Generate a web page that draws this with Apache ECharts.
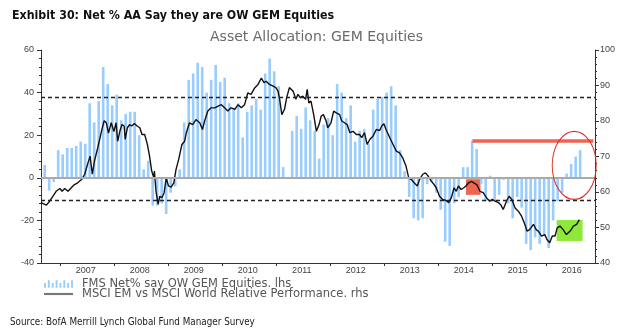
<!DOCTYPE html>
<html><head><meta charset="utf-8">
<script src="https://cdn.jsdelivr.net/npm/echarts@6/dist/echarts.min.js"></script>
<style>html,body{margin:0;padding:0;background:#fff}#c{width:633px;height:336px}</style>
</head><body><div id="c"></div>
<script>
// ---------- data ----------
const yearLabels = ['2007','2008','2009','2010','2011','2012','2013','2014','2015','2016'];

const barMonths = [
 '2006-09','2006-10','2006-11','2006-12',
 '2007-01','2007-02','2007-03','2007-04','2007-05','2007-06','2007-07','2007-08','2007-09','2007-10','2007-11','2007-12',
 '2008-01','2008-02','2008-03','2008-04','2008-05','2008-06','2008-07','2008-08','2008-09','2008-10','2008-11','2008-12',
 '2009-01','2009-02','2009-03','2009-04','2009-05','2009-06','2009-07','2009-08','2009-09','2009-10','2009-11','2009-12',
 '2010-01','2010-02','2010-03','2010-04','2010-05','2010-06','2010-07','2010-08','2010-09','2010-10','2010-11','2010-12',
 '2011-01','2011-02','2011-03','2011-04','2011-05','2011-06','2011-07','2011-08','2011-09','2011-10','2011-11','2011-12',
 '2012-01','2012-02','2012-03','2012-04','2012-05','2012-06','2012-07','2012-08','2012-09','2012-10','2012-11','2012-12',
 '2013-01','2013-02','2013-03','2013-04','2013-05','2013-06','2013-07','2013-08','2013-09','2013-10','2013-11','2013-12',
 '2014-01','2014-02','2014-03','2014-04','2014-05','2014-06','2014-07','2014-08','2014-09','2014-10','2014-11','2014-12',
 '2015-01','2015-02','2015-03','2015-04','2015-05','2015-06','2015-07','2015-08','2015-09','2015-10','2015-11','2015-12',
 '2016-01','2016-02','2016-03','2016-04','2016-05','2016-06','2016-07','2016-08'
];
const barValues = [
 6,-6,-2,13,
 11,14,14,15,17,16,35,26,36,52,44,34,
 39,27,30,31,31,20,4,8,-13,-13,-12,-17,
 -7,-4,4,26,46,49,54,52,40,46,53,45,
 47,35,33,35,19,31,34,37,32,49,56,50,
 43,5,0,22,29,23,33,27,22,9,25,28,
 20,44,40,28,34,17,22,23,16,32,37,38,
 40,43,34,13,3,-9,-19,-20,-19,-3,-2,-7,
 -15,-30,-32,-12,-9,5,5,17.5,13.5,-3,-11,1,
 -11,-8,-1,-12,-19,-9,-14,-31,-34,-28,-31,-27,
 -33,-20,-11,-7,2,6.5,10,13
];

const lineX = [
 2006.64,2006.68,2006.74,2006.80,2006.86,2006.92,2006.99,2007.03,2007.08,2007.14,
 2007.20,2007.26,2007.32,2007.39,2007.45,2007.51,2007.55,2007.59,2007.63,2007.69,
 2007.76,2007.81,2007.85,2007.89,2007.94,2007.99,2008.03,2008.06,2008.10,2008.14,
 2008.18,2008.20,2008.24,2008.28,2008.32,2008.37,2008.42,2008.47,2008.51,2008.56,
 2008.61,2008.65,2008.69,2008.73,2008.74,2008.77,2008.81,2008.84,2008.88,2008.92,
 2008.96,2009.00,2009.05,2009.10,2009.14,2009.19,2009.25,2009.30,2009.33,2009.39,
 2009.45,2009.51,2009.58,2009.63,2009.67,2009.73,2009.79,2009.86,2009.92,2009.98,
 2010.04,2010.10,2010.16,2010.23,2010.29,2010.35,2010.41,2010.47,2010.53,2010.60,
 2010.66,2010.72,2010.77,2010.81,2010.87,2010.94,2010.99,2011.03,2011.06,2011.10,
 2011.15,2011.19,2011.24,2011.31,2011.36,2011.40,2011.44,2011.49,2011.54,2011.57,
 2011.60,2011.64,2011.69,2011.74,2011.79,2011.83,2011.87,2011.92,2011.95,2012.01,
 2012.06,2012.11,2012.17,2012.21,2012.26,2012.31,2012.36,2012.42,2012.48,2012.54,
 2012.58,2012.63,2012.68,2012.73,2012.79,2012.85,2012.91,2012.95,2012.99,2013.03,
 2013.10,2013.16,2013.22,2013.28,2013.34,2013.40,2013.45,2013.50,2013.55,2013.61,
 2013.65,2013.71,2013.76,2013.81,2013.87,2013.92,2013.96,2014.02,2014.08,2014.14,
 2014.19,2014.24,2014.29,2014.33,2014.37,2014.42,2014.47,2014.51,2014.56,2014.61,
 2014.64,2014.71,2014.77,2014.83,2014.89,2014.95,2015.00,2015.05,2015.11,2015.15,
 2015.20,2015.26,2015.31,2015.36,2015.42,2015.48,2015.54,2015.60,2015.64,2015.69,
 2015.76,2015.81,2015.85,2015.91,2015.97,2016.01,2016.06,2016.11,2016.16,2016.20,
 2016.25,2016.31,2016.37,2016.44,2016.50,2016.56,2016.61
];
const lineY = [
 57.1,56.7,56.3,57.4,58.8,60.2,61.0,60.2,61.0,60.2,
 61.2,62.1,62.6,63.5,65.0,68.2,70.1,65.0,68.7,72.4,
 77.1,80.1,79.5,76.6,79.5,77.0,79.5,74.3,77.1,79.0,
 78.6,74.8,78.1,79.0,78.6,79.3,78.6,78.1,76.2,76.2,
 73.4,70.1,65.9,64.0,65.9,60.2,56.5,58.8,58.4,59.8,
 64.0,61.7,61.4,62.6,66.3,69.2,73.4,74.3,76.6,79.5,
 79.0,80.4,79.5,77.6,80.0,82.8,83.7,83.7,84.2,84.6,
 83.7,82.8,83.7,83.3,84.6,83.7,84.6,87.9,87.5,89.4,
 90.3,92.1,90.8,91.2,90.3,89.8,89.4,88.4,86.1,81.8,
 83.3,86.6,89.4,88.4,86.1,87.5,86.6,87.0,86.1,88.9,
 85.1,85.6,81.8,77.1,79.0,81.4,81.8,80.0,78.1,79.5,
 82.8,82.3,81.8,80.0,79.5,79.0,76.7,77.1,76.2,76.2,
 75.3,76.7,73.4,74.8,75.8,77.6,77.3,78.6,79.2,77.6,
 75.3,73.4,71.5,71.0,69.6,67.3,64.0,63.5,62.6,61.7,
 63.5,65.0,65.4,64.5,63.0,62.1,61.2,58.8,57.9,57.6,
 57.0,58.4,61.2,60.2,61.7,60.7,61.2,61.7,62.6,63.0,
 63.0,62.1,60.2,59.8,58.4,57.4,57.9,57.4,57.0,56.5,
 55.1,57.4,58.8,57.9,55.5,54.6,53.2,50.9,49.0,49.4,
 50.9,49.4,49.0,47.6,48.0,46.6,45.7,47.6,47.6,49.9,
 50.4,49.4,48.0,49.0,50.4,50.9,52.2
];

// reference levels (left axis units)
const zeroLevel = 0;
const upperBand = 37.8;
const lowerBand = -10.5;
// annotations (x in years, y in right-axis units)
const redBox = [[2014.51, 63.6], [2014.78, 59.2]];
const greenBox = [[2016.19, 52.1], [2016.67, 46.2]];
const redLine = [[2014.63, 74.3], [2016.87, 74.3]];
const ellipseCenter = [2016.515, 67.5];

const barName = 'FMS Net% say OW GEM Equities. lhs';
const lineName = 'MSCI EM vs MSCI World Relative Performance. rhs';

// ---------- chart ----------
function monthPos(s){ const p = s.split('-').map(Number); return p[0] + (p[1] - 0.5) / 12; }
const FONT = "'Liberation Sans', Arial, sans-serif";
const NARROW = "'Liberation Sans Narrow', 'Arial Narrow', 'DejaVu Sans Condensed', Lato, sans-serif";
const chart = echarts.init(document.getElementById('c'));
const axisCol = '#333';
chart.setOption({
  animation: false,
  title: [
    {text: 'Exhibit 30: Net % AA Say they are OW GEM Equities', left: 12, top: 10, padding: 0,
     textStyle: {fontFamily: NARROW, fontWeight: 'bold', fontSize: 12.3, color: '#111'}},
    {text: 'Asset Allocation: GEM Equities', left: 'center', top: 30, padding: 0,
     textStyle: {fontFamily: 'DejaVu Sans', fontWeight: 'normal', fontSize: 14, color: '#6a6a6a'}},
    {text: 'Source: BofA Merrill Lynch Global Fund Manager Survey', left: 10, top: 317, padding: 0,
     textStyle: {fontFamily: NARROW, fontWeight: 'normal', fontSize: 9.8, color: '#222'}}
  ],
  legend: {
    left: 44, top: 278, orient: 'vertical', itemGap: -2, itemWidth: 29, itemHeight: 8, padding: 0,
    textStyle: {fontFamily: 'DejaVu Sans', fontSize: 11.5, color: '#555', lineHeight: 9, padding: [0,0,0,4]},
    data: [
      {name: barName, icon: 'path://M0,3h2v5h-2z M4,0h2v8h-2z M8,3h2v5h-2z M12,0h2v8h-2z M16,3h2v5h-2z M20,0h2v8h-2z M24,3h2v5h-2z M28,0h2v8h-2z', itemStyle: {color: '#99ccff'}},
      {name: lineName, icon: 'path://M0,0h30v2.2h-30z', itemStyle: {color: '#777'}}
    ]
  },
  grid: {left: 41, right: 38, top: 50, bottom: 73},
  xAxis: {
    type: 'value', min: 2006.64, max: 2016.9,
    axisLine: {onZero: false, lineStyle: {color: axisCol}},
    axisTick: {customValues: yearLabels.map(Number), length: 3, lineStyle: {color: axisCol}},
    axisLabel: {customValues: yearLabels.map(v => Number(v) + 0.47), formatter: v => String(Math.floor(v + 0.001)),
                fontSize: 9, color: '#444', margin: 3, fontFamily: FONT},
    splitLine: {show: false}
  },
  yAxis: [
    {type: 'value', min: -40, max: 60, interval: 20, position: 'left',
     axisLine: {show: true, lineStyle: {color: axisCol}},
     axisTick: {show: true, length: 4, lineStyle: {color: axisCol}},
     minorTick: {show: true, splitNumber: 5, length: 2, lineStyle: {color: axisCol}},
     axisLabel: {fontSize: 9, color: '#444', margin: 7, fontFamily: FONT},
     splitLine: {show: false}},
    {type: 'value', min: 40, max: 100, interval: 10, position: 'right',
     axisLine: {show: true, lineStyle: {color: axisCol}},
     axisTick: {show: true, length: 4, lineStyle: {color: axisCol}},
     minorTick: {show: true, splitNumber: 5, length: 2, lineStyle: {color: axisCol}},
     axisLabel: {fontSize: 9, color: '#444', margin: 5, fontFamily: FONT},
     splitLine: {show: false}}
  ],
  series: [
    {type: 'bar', name: barName, yAxisIndex: 0, barWidth: 2.6,
     data: barMonths.map((m, i) => [monthPos(m), barValues[i]]),
     itemStyle: {color: '#99ccff'},
     markLine: {silent: true, symbol: ['none', 'none'], label: {show: false}, animation: false,
       data: [
         {yAxis: zeroLevel, lineStyle: {type: 'solid', color: '#aaa', width: 2}},
         {yAxis: upperBand, lineStyle: {type: [4, 3], color: '#222', width: 1.3}},
         {yAxis: lowerBand, lineStyle: {type: [4, 3], color: '#222', width: 1.3}}
       ]}
    },
    {type: 'line', name: lineName, yAxisIndex: 1, showSymbol: false, symbol: 'none', z: 4,
     data: lineX.map((x, i) => [x, lineY[i]]),
     lineStyle: {color: '#111', width: 1.4}, itemStyle: {color: '#111'},
     markArea: {silent: true, data: [
       [{coord: redBox[0], itemStyle: {color: '#ef6650'}}, {coord: redBox[1]}],
       [{coord: greenBox[0], itemStyle: {color: '#8de83a'}}, {coord: greenBox[1]}]
     ]},
     markLine: {silent: true, symbol: ['none', 'none'], label: {show: false},
       lineStyle: {color: '#ee6352', width: 3.5, type: 'solid'},
       data: [[{coord: redLine[0]}, {coord: redLine[1]}]]},
     markPoint: {silent: true, symbol: 'circle', symbolSize: [44, 68], label: {show: false},
       itemStyle: {color: 'rgba(0,0,0,0)', borderColor: '#e0302a', borderWidth: 1.2},
       data: [{coord: ellipseCenter}]}
    }
  ]
});
</script></body></html>
